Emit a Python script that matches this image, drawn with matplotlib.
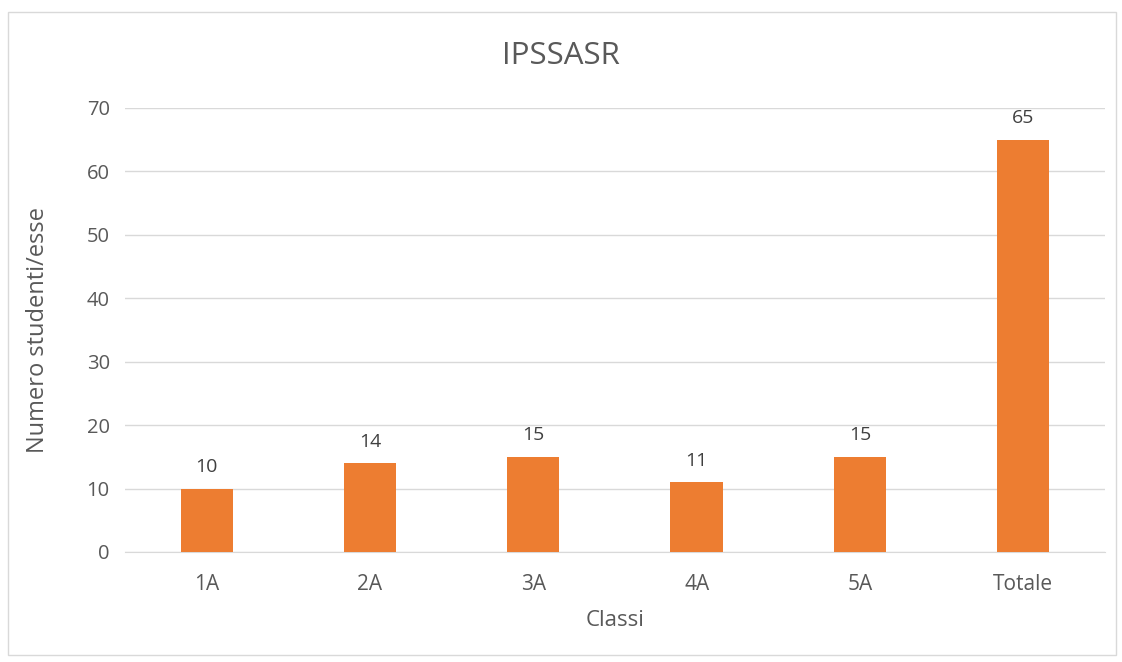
import matplotlib.pyplot as plt
from matplotlib.patches import Rectangle

classi = ["1A", "2A", "3A", "4A", "5A", "Totale"]
studenti = [10, 14, 15, 11, 15, 65]

TXT = "#595959"
GRID = "#d9d9d9"
BAR = "#ed7d31"

plt.rcParams['font.family'] = ['Open Sans', 'DejaVu Sans']

fig = plt.figure(figsize=(11.22, 6.62), dpi=100)
ax = fig.add_axes([0.1114, 0.1662, 0.8734, 0.6707])

x = range(len(classi))
ax.bar(x, studenti, width=0.32, color=BAR, zorder=3)
for xi, v in zip(x, studenti):
    ax.annotate(str(v), (xi, v), xytext=(0, 9), textcoords="offset points",
                ha="center", va="bottom", fontsize=14, color="#404040")

ax.set_xlim(-0.5, len(classi) - 0.5)
ax.set_ylim(0, 70)
ax.set_yticks(range(0, 71, 10))
ax.set_xticks(list(x))
ax.set_xticklabels(classi)
ax.tick_params(axis="y", length=0, labelsize=14.5, labelcolor=TXT, pad=11)
ax.tick_params(axis="x", length=0, labelsize=15, labelcolor=TXT, pad=16)
ax.yaxis.grid(True, color=GRID, linewidth=1, zorder=0)
for s in ["top", "right", "left"]:
    ax.spines[s].set_visible(False)
ax.spines["bottom"].set_color(GRID)

ax.set_xlabel("Classi", fontsize=16, color=TXT, labelpad=11)
ax.set_ylabel("Numero studenti/esse", fontsize=17, color=TXT, labelpad=26)
fig.text(0.5, 0.915, "IPSSASR", ha="center", va="center", fontsize=22.5, color=TXT)

fig.patches.append(Rectangle((0.007, 0.01), 0.988, 0.972, transform=fig.transFigure,
                             fill=False, edgecolor=GRID, linewidth=1))

fig.savefig("out.png", dpi=100)
